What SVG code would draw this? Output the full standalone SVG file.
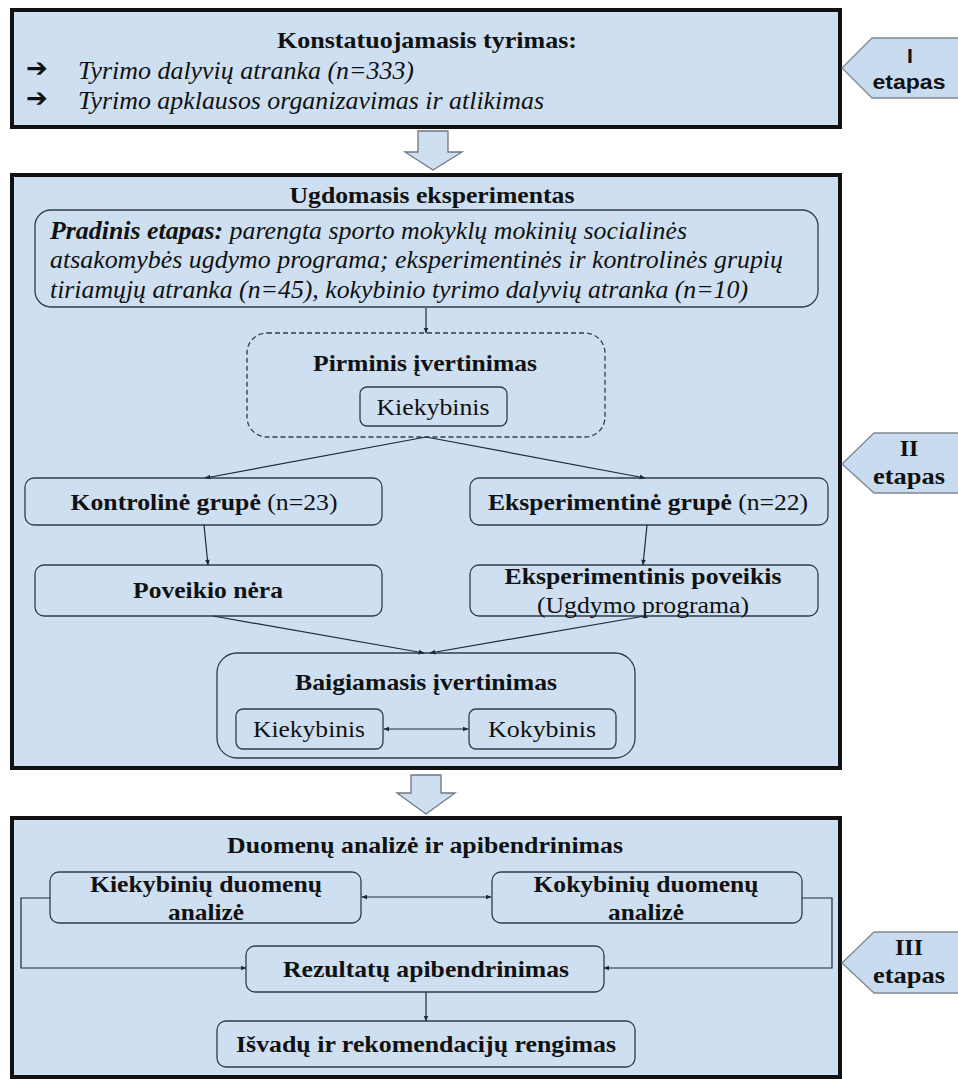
<svg xmlns="http://www.w3.org/2000/svg" width="958" height="1079" viewBox="0 0 958 1079">
  <defs>
    <marker id="ah" viewBox="0 0 10 10" refX="9" refY="5" markerWidth="6" markerHeight="6" orient="auto-start-reverse" markerUnits="userSpaceOnUse">
      <path d="M0,1 L10,5 L0,9 Z" fill="#1f2a36"/>
    </marker>
    <style>
      .outer { fill: #cddff0; stroke: #111; stroke-width: 4; }
      .box { fill: #cddff0; stroke: #2f3d4c; stroke-width: 1.3; }
      .dash { fill: #cddff0; stroke: #2f3d4c; stroke-width: 1.3; stroke-dasharray: 5 3; }
      .tag { fill: #c9dcef; stroke: #7f8891; stroke-width: 1.3; }
      .hollow { fill: #cddff0; stroke: #6f7780; stroke-width: 1.3; }
      .ln { fill: none; stroke: #1f2a36; stroke-width: 1.2; }
      .arr { marker-end: url(#ah); }
      .dbl { marker-start: url(#ah); marker-end: url(#ah); }
      text { fill: #111; }
      .b { font-weight: bold; font-size: 24px; }
      .r { font-size: 24px; }
      .i { font-style: italic; font-size: 25px; }
      .c { text-anchor: middle; }
      .sans { font-weight: bold; font-size: 21px; }
      .sym { font-weight: bold; font-size: 26px; }
    </style>
  </defs>

  <g font-family="'Liberation Serif', Tinos, 'Times New Roman', Times, serif">
  <!-- Stage I -->
  <g id="stage1">
    <rect class="outer" x="12" y="10" width="828" height="117"/>
    <text class="b c" x="427" y="48" textLength="300" lengthAdjust="spacingAndGlyphs">Konstatuojamasis tyrimas:</text>
    <text class="sym" x="26" y="77" font-family="'DejaVu Sans', sans-serif">➔</text>
    <text class="i" x="78" y="79" textLength="336" lengthAdjust="spacingAndGlyphs">Tyrimo dalyvių atranka (n=333)</text>
    <text class="sym" x="26" y="107" font-family="'DejaVu Sans', sans-serif">➔</text>
    <text class="i" x="78" y="109" textLength="466" lengthAdjust="spacingAndGlyphs">Tyrimo apklausos organizavimas ir atlikimas</text>
  </g>
  <g id="tag1">
    <polygon class="tag" points="842,68 872,38 960,38 960,98 872,98"/>
    <text class="sans c" x="910" y="63" font-family="'Liberation Sans', Arimo, Arial, sans-serif">I</text>
    <text class="sans c" x="909" y="89" textLength="73" lengthAdjust="spacingAndGlyphs" font-family="'Liberation Sans', Arimo, Arial, sans-serif">etapas</text>
  </g>

  <g id="flow1">
    <polygon class="hollow" points="418,131 448,131 448,152 462,152 433,170 405,152 418,152"/>
  </g>

  <!-- Stage II -->
  <g id="stage2">
    <rect class="outer" x="12" y="175" width="828" height="593"/>
    <text class="b c" x="432" y="203" textLength="285" lengthAdjust="spacingAndGlyphs">Ugdomasis eksperimentas</text>
  </g>
  <g id="tag2">
    <polygon class="tag" points="842,464 874,433 960,433 960,493 874,493"/>
    <text class="b c" x="909" y="456">II</text>
    <text class="b c" x="909" y="484" textLength="72" lengthAdjust="spacingAndGlyphs">etapas</text>
  </g>

  <g id="pradinis">
    <rect class="box" x="35" y="210" width="783" height="97" rx="16"/>
    <text class="i" x="50" y="239" textLength="637" lengthAdjust="spacingAndGlyphs"><tspan font-weight="bold">Pradinis etapas:</tspan> parengta sporto mokyklų mokinių socialinės</text>
    <text class="i" x="50" y="268" textLength="733" lengthAdjust="spacingAndGlyphs">atsakomybės ugdymo programa; eksperimentinės ir kontrolinės grupių</text>
    <text class="i" x="50" y="298" textLength="698" lengthAdjust="spacingAndGlyphs">tiriamųjų atranka (n=45), kokybinio tyrimo dalyvių atranka (n=10)</text>
  </g>

  <g id="pirminis">
    <rect class="dash" x="247" y="333" width="358" height="104" rx="20"/>
    <text class="b c" x="425" y="371" textLength="224" lengthAdjust="spacingAndGlyphs">Pirminis įvertinimas</text>
    <rect class="box" x="360" y="387" width="147" height="39" rx="7"/>
    <text class="r c" x="433" y="415" textLength="113" lengthAdjust="spacingAndGlyphs">Kiekybinis</text>
  </g>

  <g id="kontroline">
    <rect class="box" x="25" y="478" width="357" height="47" rx="9"/>
    <text class="b c" x="204" y="510" textLength="267" lengthAdjust="spacingAndGlyphs">Kontrolinė grupė <tspan font-weight="normal">(n=23)</tspan></text>
  </g>

  <g id="eksperimentine">
    <rect class="box" x="470" y="478" width="358" height="47" rx="9"/>
    <text class="b c" x="648" y="510" textLength="320" lengthAdjust="spacingAndGlyphs">Eksperimentinė grupė <tspan font-weight="normal">(n=22)</tspan></text>
  </g>

  <g id="poveikio-nera">
    <rect class="box" x="35" y="565" width="347" height="51" rx="9"/>
    <text class="b c" x="208" y="598" textLength="150" lengthAdjust="spacingAndGlyphs">Poveikio nėra</text>
  </g>

  <g id="eksp-poveikis">
    <rect class="box" x="470" y="565" width="348" height="51" rx="9"/>
    <text class="b c" x="643" y="584" textLength="277" lengthAdjust="spacingAndGlyphs">Eksperimentinis poveikis</text>
    <text class="r c" x="643" y="613" textLength="212" lengthAdjust="spacingAndGlyphs">(Ugdymo programa)</text>
  </g>

  <g id="baigiamasis">
    <rect class="box" x="217" y="653" width="418" height="105" rx="20"/>
    <text class="b c" x="426" y="690" textLength="262" lengthAdjust="spacingAndGlyphs">Baigiamasis įvertinimas</text>
    <rect class="box" x="236" y="709" width="147" height="40" rx="7"/>
    <text class="r c" x="309" y="737" textLength="112" lengthAdjust="spacingAndGlyphs">Kiekybinis</text>
    <rect class="box" x="469" y="709" width="147" height="40" rx="7"/>
    <text class="r c" x="542" y="737" textLength="108" lengthAdjust="spacingAndGlyphs">Kokybinis</text>
  </g>

  <g id="flow2">
    <polygon class="hollow" points="411,775 441,775 441,793 455,793 426,814 397,793 411,793"/>
  </g>

  <!-- Stage III -->
  <g id="stage3">
    <rect class="outer" x="12" y="818" width="828" height="259"/>
    <text class="b c" x="425" y="853" textLength="396" lengthAdjust="spacingAndGlyphs">Duomenų analizė ir apibendrinimas</text>
  </g>
  <g id="tag3">
    <polygon class="tag" points="842,963 874,932 960,932 960,993 874,993"/>
    <text class="b c" x="909" y="955">III</text>
    <text class="b c" x="909" y="983" textLength="72" lengthAdjust="spacingAndGlyphs">etapas</text>
  </g>

  <g id="kiekybiniu-analize">
    <rect class="box" x="50" y="872" width="311" height="51" rx="9"/>
    <text class="b c" x="206" y="892" textLength="232" lengthAdjust="spacingAndGlyphs">Kiekybinių duomenų</text>
    <text class="b c" x="206" y="920" textLength="76" lengthAdjust="spacingAndGlyphs">analizė</text>
  </g>

  <g id="kokybiniu-analize">
    <rect class="box" x="492" y="872" width="310" height="51" rx="9"/>
    <text class="b c" x="646" y="892" textLength="225" lengthAdjust="spacingAndGlyphs">Kokybinių duomenų</text>
    <text class="b c" x="646" y="920" textLength="76" lengthAdjust="spacingAndGlyphs">analizė</text>
  </g>

  <g id="rezultatu">
    <rect class="box" x="246" y="946" width="358" height="46" rx="9"/>
    <text class="b c" x="426" y="977" textLength="286" lengthAdjust="spacingAndGlyphs">Rezultatų apibendrinimas</text>
  </g>

  <g id="isvadu">
    <rect class="box" x="217" y="1021" width="418" height="46" rx="9"/>
    <text class="b c" x="426" y="1052" textLength="380" lengthAdjust="spacingAndGlyphs">Išvadų ir rekomendacijų rengimas</text>
  </g>
  </g>

  <!-- Connectors -->
  <g id="connectors">
    <line class="ln arr" x1="426" y1="308" x2="426" y2="333"/>
    <line class="ln arr" x1="426" y1="437" x2="205" y2="478"/>
    <line class="ln arr" x1="426" y1="437" x2="645" y2="478"/>
    <line class="ln arr" x1="204" y1="525" x2="208" y2="565"/>
    <line class="ln arr" x1="647" y1="525" x2="643" y2="565"/>
    <line class="ln arr" x1="213" y1="616" x2="424" y2="653"/>
    <line class="ln arr" x1="645" y1="616" x2="430" y2="653"/>
    <line class="ln dbl" x1="384" y1="729" x2="468" y2="729"/>
    <line class="ln dbl" x1="362" y1="897" x2="491" y2="897"/>
    <path class="ln arr" d="M50,898 H21 V968 H246"/>
    <path class="ln arr" d="M802,898 H832 V968 H604"/>
    <line class="ln arr" x1="426" y1="992" x2="426" y2="1021"/>
  </g>
</svg>
